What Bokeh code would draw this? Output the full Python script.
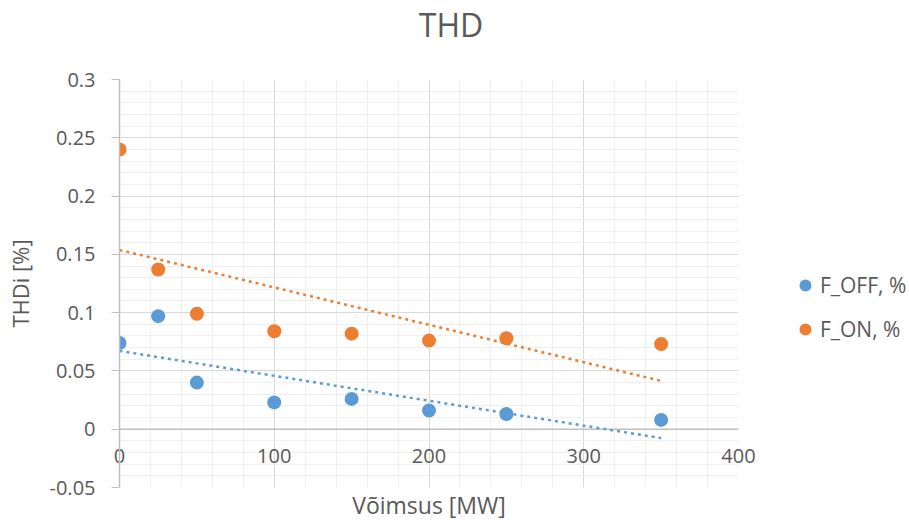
import numpy as np
from bokeh.plotting import figure
from bokeh.layouts import row, column
from bokeh.models import FixedTicker, Legend, LegendItem, Span, Label
from bokeh.embed import file_html
from bokeh.resources import INLINE

# ---- data ----
power_mw = [0, 25, 50, 100, 150, 200, 250, 350]
f_off = [0.074, 0.097, 0.040, 0.023, 0.026, 0.016, 0.013, 0.008]
f_on = [0.240, 0.137, 0.099, 0.084, 0.082, 0.076, 0.078, 0.073]
series_names = ["F_OFF, %", "F_ON, %"]
chart_title = "THD"

x_ticks = [0, 100, 200, 300, 400]
x_tick_labels = ["0", "100", "200", "300", "400"]
y_ticks = [-0.05, 0.0, 0.05, 0.1, 0.15, 0.2, 0.25, 0.3]
y_tick_labels = ["-0.05", "0", "0.05", "0.1", "0.15", "0.2", "0.25", "0.3"]
x_minor = [v for v in range(0, 401, 20) if v % 100]
y_minor = [round(-0.05 + 0.01 * i, 2) for i in range(36)]

BLUE = "#5B9BD5"
ORANGE = "#ED7D31"
TXT = "#595959"
FONT = "Open Sans"

# ---- title strip ----
t = figure(width=909, height=60, x_range=(0, 1), y_range=(0, 1),
           output_backend="svg", toolbar_location=None, title=None,
           x_axis_location=None, y_axis_location=None,
           min_border_left=0, min_border_right=0,
           min_border_top=0, min_border_bottom=0)
t.outline_line_color = None
t.grid.visible = False
t.background_fill_color = "white"
t.border_fill_color = "white"
t.add_layout(Label(x=450.5, y=36, x_units="screen", y_units="screen",
                   text=chart_title, text_align="center",
                   text_baseline="middle", text_font=FONT,
                   text_font_size="32px", text_color=TXT))

# ---- main chart ----
p = figure(width=760, height=463, x_range=(0, 400), y_range=(-0.05, 0.3),
           output_backend="svg", toolbar_location=None, title=None,
           min_border_left=119, min_border_right=22,
           min_border_top=19, min_border_bottom=34)
p.outline_line_color = None
p.background_fill_color = "white"
p.border_fill_color = "white"

# grids
xt = FixedTicker(ticks=x_ticks, minor_ticks=x_minor)
yt = FixedTicker(ticks=y_ticks, minor_ticks=y_minor)
p.xgrid.ticker = xt
p.ygrid.ticker = yt
for g in (p.xgrid, p.ygrid):
    g.grid_line_color = "#D9D9D9"
    g.grid_line_width = 1
    g.minor_grid_line_color = "#EFEFEF"
    g.minor_grid_line_width = 1

# horizontal axis line crossing at y = 0
zero = Span(location=0, dimension="width", line_color="#BFBFBF",
            line_width=1.5, level="underlay")
p.add_layout(zero)

# x axis (labels lifted up next to the y = 0 line)
x_ax = p.below[0]
x_ax.ticker = xt
x_ax.major_label_overrides = {t_: l for t_, l in zip(x_ticks, x_tick_labels)}
x_ax.axis_line_color = None
x_ax.major_tick_line_color = None
x_ax.minor_tick_line_color = None
x_ax.major_tick_out = 0
x_ax.major_tick_in = 0
x_ax.major_label_standoff = -43
x_ax.major_label_text_font = FONT
x_ax.major_label_text_font_size = "20px"
x_ax.major_label_text_color = TXT
x_ax.axis_label = "Võimsus [MW]"
x_ax.axis_label_text_font = FONT
x_ax.axis_label_text_font_size = "23px"
x_ax.axis_label_text_font_style = "normal"
x_ax.axis_label_text_color = TXT
x_ax.axis_label_standoff = 23

# y axis
y_ax = p.left[0]
y_ax.ticker = yt
y_ax.major_label_overrides = {t_: l for t_, l in zip(y_ticks, y_tick_labels)}
y_ax.axis_line_color = "#BFBFBF"
y_ax.axis_line_width = 1.5
y_ax.major_tick_line_color = "#BFBFBF"
y_ax.major_tick_out = 8
y_ax.major_tick_in = 0
y_ax.minor_tick_line_color = None
y_ax.major_label_standoff = 16
y_ax.major_label_text_font = FONT
y_ax.major_label_text_font_size = "20px"
y_ax.major_label_text_color = TXT
y_ax.axis_label = "THDi [%]"
y_ax.axis_label_text_font = FONT
y_ax.axis_label_text_font_size = "22px"
y_ax.axis_label_text_font_style = "normal"
y_ax.axis_label_text_color = TXT
y_ax.axis_label_standoff = 12

# trend lines (linear least squares)
xs = np.array(power_mw, dtype=float)
for ys, col in ((f_off, BLUE), (f_on, ORANGE)):
    k, b = np.polyfit(xs, np.array(ys), 1)
    xe = [xs[0], xs[-1]]
    p.line(xe, [k * v + b for v in xe], line_color=col, line_width=2.5,
           line_dash="3 4")

p.scatter(power_mw, f_off, size=14, fill_color=BLUE, line_color=None)
p.scatter(power_mw, f_on, size=14, fill_color=ORANGE, line_color=None)

# ---- legend panel to the right of the chart ----
q = figure(width=149, height=463, x_range=(0, 1), y_range=(0, 1),
           output_backend="svg", toolbar_location=None, title=None,
           x_axis_location=None, y_axis_location=None,
           min_border_left=0, min_border_right=0,
           min_border_top=0, min_border_bottom=0)
q.outline_line_color = None
q.grid.visible = False
q.background_fill_color = "white"
q.border_fill_color = "white"
nan = [float("nan")]
k_off = q.scatter(nan, nan, size=14, fill_color=BLUE, line_color=None)
k_on = q.scatter(nan, nan, size=14, fill_color=ORANGE, line_color=None)

legend = Legend(items=[LegendItem(label=series_names[0], renderers=[k_off]),
                       LegendItem(label=series_names[1], renderers=[k_on])],
                location=(30, 143), orientation="vertical")
legend.border_line_color = None
legend.background_fill_alpha = 0
legend.padding = 0
legend.margin = 0
legend.spacing = 14
legend.glyph_width = 30
legend.glyph_height = 30
legend.label_standoff = 0
legend.label_text_font = FONT
legend.label_text_font_size = "21px"
legend.label_text_color = TXT
q.add_layout(legend)

layout = column(t, row(p, q, spacing=0), spacing=0)
open("out.html", "w").write(file_html(layout, INLINE))
